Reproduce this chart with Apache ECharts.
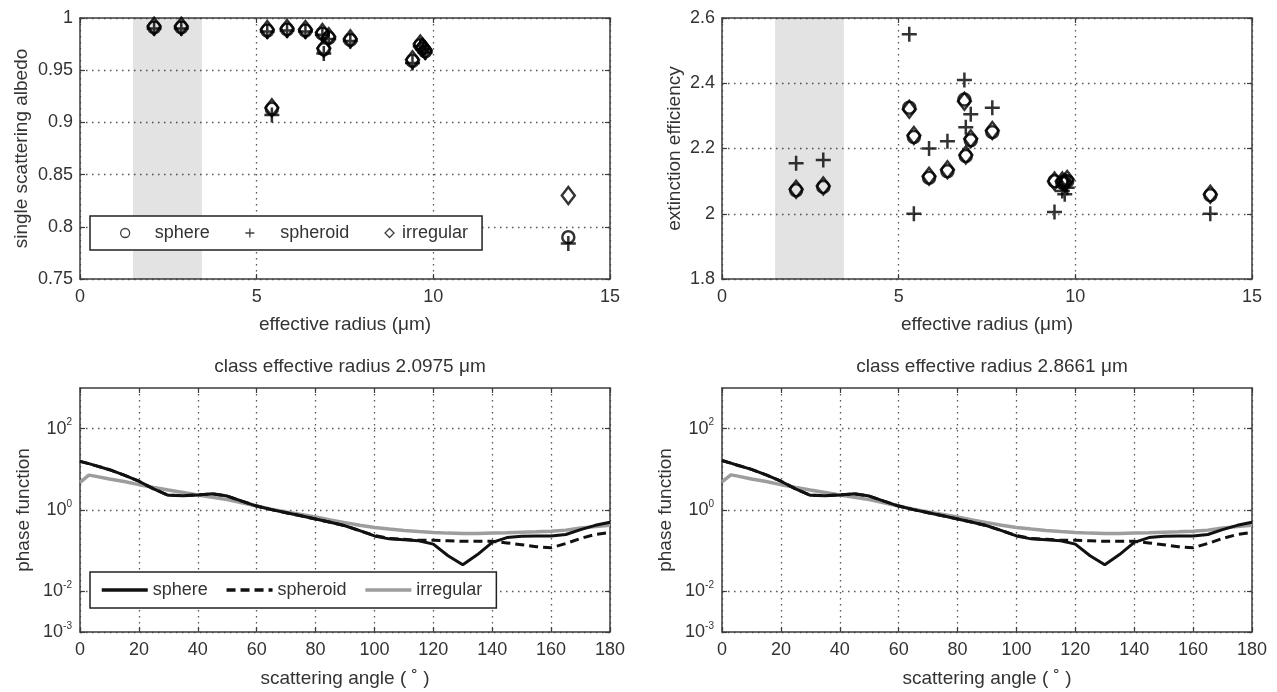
<!DOCTYPE html>
<html>
<head>
<meta charset="utf-8">
<title>Single scattering properties by particle shape</title>
<script src="https://cdn.jsdelivr.net/npm/echarts@6/dist/echarts.min.js"></script>
<style>
  html, body { margin: 0; padding: 0; background: #fff; }
  #chart { width: 1277px; height: 692px; }
</style>
</head>
<body>
<div id="chart"></div>
<script>
// ---- effective radius classes (µm) ----
const radius = [2.0975, 2.8661, 5.30, 5.43, 5.86, 6.38, 6.86, 6.90, 7.04, 7.65, 9.41, 9.63, 9.70, 9.77, 13.82];

// ---- single scattering albedo ----
const albedoSphere    = [0.991, 0.991, 0.988, 0.913, 0.989, 0.988, 0.985, 0.970, 0.981, 0.979, 0.959, 0.974, 0.971, 0.968, 0.790];
const albedoSpheroid  = [0.990, 0.990, 0.987, 0.907, 0.988, 0.987, 0.984, 0.966, 0.980, 0.978, 0.957, 0.973, 0.970, 0.967, 0.784];
const albedoIrregular = [0.992, 0.992, 0.989, 0.914, 0.990, 0.989, 0.986, 0.971, 0.982, 0.980, 0.960, 0.975, 0.972, 0.969, 0.830];

// ---- extinction efficiency ----
const extSphere    = [2.072, 2.082, 2.325, 2.235, 2.110, 2.130, 2.350, 2.177, 2.225, 2.250, 2.100, 2.095, 2.100, 2.100, 2.057];
const extSpheroid  = [2.155, 2.165, 2.550, 2.000, 2.200, 2.222, 2.410, 2.265, 2.305, 2.325, 2.005, 2.070, 2.060, 2.080, 2.000];
const extIrregular = [2.075, 2.085, 2.320, 2.240, 2.115, 2.135, 2.345, 2.180, 2.230, 2.255, 2.100, 2.100, 2.095, 2.105, 2.060];

// highlighted radius range (µm)
const bandRange = [1.5, 3.45];

// ---- phase functions vs scattering angle (deg) ----
const angles = [0, 3, 5, 10, 15, 20, 25, 30, 35, 40, 45, 50, 55, 60, 65, 70, 75, 80, 85, 90,
                95, 100, 105, 110, 115, 120, 125, 130, 135, 140, 145, 150, 155, 160, 165, 170, 175, 180];

// class effective radius 2.0975 µm
const pfSphereA    = [15.7, 13.8, 12.5, 9.8, 7.2, 5.1, 3.3, 2.3, 2.25, 2.35, 2.5, 2.2, 1.65, 1.25, 1.02, 0.86, 0.72, 0.60, 0.50, 0.41,
                      0.31, 0.23, 0.195, 0.185, 0.175, 0.145, 0.075, 0.045, 0.08, 0.16, 0.21, 0.225, 0.23, 0.23, 0.25, 0.33, 0.42, 0.50];
const pfSpheroidA  = [15.7, 13.8, 12.5, 9.8, 7.2, 5.1, 3.3, 2.3, 2.25, 2.35, 2.5, 2.2, 1.65, 1.25, 1.02, 0.86, 0.72, 0.60, 0.50, 0.41,
                      0.31, 0.235, 0.20, 0.19, 0.18, 0.18, 0.175, 0.17, 0.17, 0.17, 0.155, 0.14, 0.125, 0.118, 0.15, 0.20, 0.25, 0.28];
const pfIrregularA = [4.8, 7.2, 6.8, 5.8, 5.0, 4.2, 3.6, 3.1, 2.7, 2.35, 2.05, 1.8, 1.5, 1.25, 1.05, 0.90, 0.78, 0.67, 0.57, 0.49,
                      0.42, 0.37, 0.34, 0.315, 0.295, 0.28, 0.27, 0.265, 0.265, 0.27, 0.275, 0.285, 0.29, 0.30, 0.32, 0.36, 0.39, 0.42];

// class effective radius 2.8661 µm
const pfSphereB    = [16.5, 14.2, 12.8, 10.0, 7.3, 5.1, 3.3, 2.3, 2.25, 2.35, 2.5, 2.2, 1.65, 1.25, 1.02, 0.86, 0.72, 0.60, 0.50, 0.41,
                      0.31, 0.23, 0.195, 0.185, 0.175, 0.145, 0.075, 0.045, 0.08, 0.16, 0.21, 0.225, 0.23, 0.23, 0.25, 0.33, 0.42, 0.50];
const pfSpheroidB  = [16.5, 14.2, 12.8, 10.0, 7.3, 5.1, 3.3, 2.3, 2.25, 2.35, 2.5, 2.2, 1.65, 1.25, 1.02, 0.86, 0.72, 0.60, 0.50, 0.41,
                      0.31, 0.235, 0.20, 0.19, 0.18, 0.18, 0.175, 0.17, 0.17, 0.17, 0.155, 0.14, 0.125, 0.118, 0.15, 0.20, 0.25, 0.28];
const pfIrregularB = [4.9, 7.3, 6.9, 5.8, 5.0, 4.2, 3.6, 3.1, 2.7, 2.35, 2.05, 1.8, 1.5, 1.25, 1.05, 0.90, 0.78, 0.67, 0.57, 0.49,
                      0.42, 0.37, 0.34, 0.315, 0.295, 0.28, 0.27, 0.265, 0.265, 0.27, 0.275, 0.285, 0.29, 0.30, 0.32, 0.36, 0.39, 0.42];

// ---- axis ticks ----
const radiusTicks = { min: 0, max: 15, interval: 5 };
const albedoTicks = { min: 0.75, max: 1, interval: 0.05 };
const extTicks    = { min: 1.8, max: 2.6, interval: 0.2 };
const angleTicks  = { min: 0, max: 180, interval: 20 };
const phaseRange  = { min: 0.001, max: 1000 };
const phaseLabelValues = [0.001, 0.01, 1, 100];

const titles = ['class effective radius 2.0975 \u03bcm', 'class effective radius 2.8661 \u03bcm'];

// ---- styling ----
const FONT = 'Liberation Sans, Arial, Helvetica, sans-serif';
const TEXT = '#333';
const FRAME = '#3c3c3c';
const GRID = { color: '#555', width: 1.3, type: [1.5, 4.5] };
const PLUS = 'path://M5,0 L5,10 M0,5 L10,5';

const chart = echarts.init(document.getElementById('chart'), null, { renderer: 'canvas' });

const grids = [
  { left: 80,  top: 18,  width: 530, height: 261 },
  { left: 722, top: 18,  width: 530, height: 261 },
  { left: 80,  top: 388, width: 530, height: 244 },
  { left: 722, top: 388, width: 530, height: 244 }
];

function primaryX(gridIndex, ticks, name, nameGap) {
  return {
    type: 'value', gridIndex, position: 'bottom',
    min: ticks.min, max: ticks.max, interval: ticks.interval,
    name, nameLocation: 'middle', nameGap,
    nameTextStyle: { fontFamily: FONT, fontSize: 19, color: TEXT },
    axisLine: { show: true, onZero: false, lineStyle: { color: FRAME, width: 1.5 } },
    axisTick: { show: true, inside: true, length: 5, lineStyle: { color: FRAME, width: 1.2 } },
    axisLabel: { fontFamily: FONT, fontSize: 18, color: TEXT, margin: 9 },
    splitLine: { show: true, lineStyle: GRID }
  };
}
function secondaryX(gridIndex, ticks) {
  return {
    type: 'value', gridIndex, position: 'top',
    min: ticks.min, max: ticks.max, interval: ticks.interval,
    axisLine: { show: true, onZero: false, lineStyle: { color: FRAME, width: 1.5 } },
    axisTick: { show: true, inside: true, length: 5, lineStyle: { color: FRAME, width: 1.2 } },
    axisLabel: { show: false }, splitLine: { show: false }
  };
}
function primaryY(gridIndex, ticks, name, nameGap) {
  return {
    type: 'value', gridIndex, position: 'left',
    min: ticks.min, max: ticks.max, interval: ticks.interval,
    name, nameLocation: 'middle', nameGap,
    nameTextStyle: { fontFamily: FONT, fontSize: 19, color: TEXT },
    axisLine: { show: true, onZero: false, lineStyle: { color: FRAME, width: 1.5 } },
    axisTick: { show: true, inside: true, length: 5, lineStyle: { color: FRAME, width: 1.2 } },
    axisLabel: { fontFamily: FONT, fontSize: 18, color: TEXT, margin: 7 },
    splitLine: { show: true, lineStyle: GRID }
  };
}
function secondaryY(gridIndex, ticks) {
  return {
    type: 'value', gridIndex, position: 'right',
    min: ticks.min, max: ticks.max, interval: ticks.interval,
    axisLine: { show: true, onZero: false, lineStyle: { color: FRAME, width: 1.5 } },
    axisTick: { show: true, inside: true, length: 5, lineStyle: { color: FRAME, width: 1.2 } },
    axisLabel: { show: false }, splitLine: { show: false }
  };
}
function logY(gridIndex, position, withLabels) {
  return {
    type: 'log', logBase: 10, gridIndex, position,
    min: phaseRange.min, max: phaseRange.max,
    name: withLabels ? 'phase function' : '', nameLocation: 'middle', nameGap: 47,
    nameTextStyle: { fontFamily: FONT, fontSize: 19, color: TEXT },
    axisLine: { show: true, onZero: false, lineStyle: { color: FRAME, width: 1.5 } },
    axisTick: { show: true, inside: true, length: 5, customValues: phaseLabelValues,
                lineStyle: { color: FRAME, width: 1.2 } },
    axisLabel: {
      show: withLabels, customValues: phaseLabelValues, margin: 8,
      formatter: v => '{b|10}{s|' + Math.round(Math.log10(v)) + '}',
      rich: {
        b: { fontFamily: FONT, fontSize: 18, color: TEXT, lineHeight: 22 },
        s: { fontFamily: FONT, fontSize: 10, color: TEXT, lineHeight: 11, verticalAlign: 'top' }
      }
    },
    splitLine: { show: withLabels, lineStyle: GRID }
  };
}

const xAxis = [
  primaryX(0, radiusTicks, 'effective radius (\u03bcm)', 36), secondaryX(0, radiusTicks),
  primaryX(1, radiusTicks, 'effective radius (\u03bcm)', 36), secondaryX(1, radiusTicks),
  primaryX(2, angleTicks, 'scattering angle ( \u02da )', 37), secondaryX(2, angleTicks),
  primaryX(3, angleTicks, 'scattering angle ( \u02da )', 37), secondaryX(3, angleTicks)
];
const yAxis = [
  primaryY(0, albedoTicks, 'single scattering albedo', 49), secondaryY(0, albedoTicks),
  primaryY(1, extTicks, 'extinction efficiency', 38), secondaryY(1, extTicks),
  logY(2, 'left', true), logY(2, 'right', false),
  logY(3, 'left', true), logY(3, 'right', false)
];

const zip = (xs, ys) => xs.map((x, i) => [x, ys[i]]);

const hollow = { color: 'rgba(0,0,0,0)', borderColor: '#000', borderWidth: 2.5 };
const markerDefs = [
  { name: 'sphere',    symbol: 'circle',  size: 12 },
  { name: 'spheroid',  symbol: PLUS,      size: 15 },
  { name: 'irregular', symbol: 'diamond', size: [13, 17] }
];

function scatterSeries(axisIndex, sets, withBand) {
  return markerDefs.map((m, k) => {
    const s = {
      type: 'scatter', name: m.name,
      xAxisIndex: axisIndex, yAxisIndex: axisIndex,
      symbol: m.symbol, symbolSize: m.size,
      itemStyle: hollow,
      emphasis: { disabled: true },
      data: zip(radius, sets[k]),
      z: 3
    };
    if (withBand && k === 0) {
      s.markArea = {
        silent: true,
        itemStyle: { color: 'rgba(0,0,0,0.11)' },
        data: [[{ xAxis: bandRange[0] }, { xAxis: bandRange[1] }]]
      };
    }
    return s;
  });
}

const lineDefs = [
  { name: 'sphere phase',    color: '#111',    type: 'solid',  width: 3 },
  { name: 'spheroid phase',  color: '#111',    type: [9, 5],   width: 3 },
  { name: 'irregular phase', color: '#9d9d9d', type: 'solid',  width: 3.5 }
];
function phaseSeries(axisIndex, sets) {
  // gray curve first so the black curves sit on top
  return [2, 1, 0].map(k => ({
    type: 'line', name: lineDefs[k].name,
    xAxisIndex: axisIndex, yAxisIndex: axisIndex,
    symbol: 'none', showSymbol: false, smooth: false,
    lineStyle: { color: lineDefs[k].color, width: lineDefs[k].width, type: lineDefs[k].type },
    itemStyle: { color: lineDefs[k].color },
    emphasis: { disabled: true },
    data: zip(angles, sets[k]),
    z: 3 + (2 - k)
  }));
}

const series = [
  ...scatterSeries(0, [albedoSphere, albedoSpheroid, albedoIrregular], true),
  ...scatterSeries(2, [extSphere, extSpheroid, extIrregular], true),
  ...phaseSeries(4, [pfSphereA, pfSpheroidA, pfIrregularA]),
  ...phaseSeries(6, [pfSphereB, pfSpheroidB, pfIrregularB])
];

const legendText = { fontFamily: FONT, fontSize: 18, color: TEXT };
const legendIcon = { color: 'rgba(0,0,0,0)', borderColor: '#111', borderWidth: 1.3 };

const option = {
  backgroundColor: '#fff',
  animation: false,
  title: titles.map((t, i) => ({
    text: t, left: i === 0 ? 345 : 987, top: 352, textAlign: 'center',
    textStyle: { fontFamily: FONT, fontSize: 19, fontWeight: 'normal', color: TEXT }
  })),
  grid: grids,
  xAxis, yAxis,
  legend: [
    {
      left: 90, top: 216, orient: 'horizontal', selectedMode: false,
      backgroundColor: '#fff', borderColor: '#222', borderWidth: 1.5, borderRadius: 0,
      padding: [8, 14, 8, 30], itemGap: 35, itemWidth: 9, itemHeight: 9,
      textStyle: legendText,
      data: [
        { name: 'sphere',    icon: 'circle',  itemStyle: legendIcon, textStyle: { padding: [0, 0, 0, 20] } },
        { name: 'spheroid',  icon: PLUS,      itemStyle: legendIcon, textStyle: { padding: [0, 0, 0, 21] } },
        { name: 'irregular', icon: 'diamond', itemStyle: legendIcon, textStyle: { padding: [0, 0, 0, 3] } }
      ]
    },
    {
      left: 90, top: 572, orient: 'horizontal', selectedMode: false,
      backgroundColor: '#fff', borderColor: '#222', borderWidth: 1.5, borderRadius: 0,
      padding: [9, 14, 9, 10], itemGap: 17, itemWidth: 46, itemHeight: 14,
      textStyle: legendText,
      itemStyle: { opacity: 0 },
      lineStyle: { width: 3.5 },
      formatter: n => n.replace(' phase', ''),
      data: lineDefs.map(d => d.name)
    }
  ],
  series
};

chart.setOption(option);
</script>
</body>
</html>
